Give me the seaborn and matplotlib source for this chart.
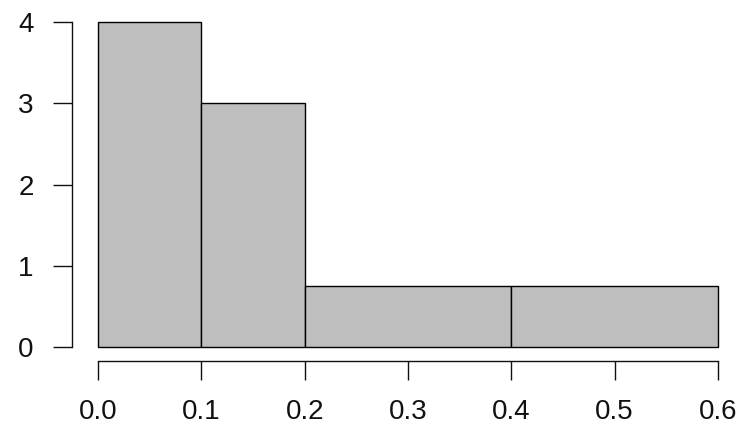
import matplotlib
matplotlib.use("Agg")
import matplotlib.pyplot as plt
import seaborn as sns

# ---- datos ----
bin_edges = [0.0, 0.1, 0.2, 0.4, 0.6]
bin_heights = [4, 3, 0.75, 0.75]
x_ticks = [0.0, 0.1, 0.2, 0.3, 0.4, 0.5, 0.6]
x_labels = ["0.0", "0.1", "0.2", "0.3", "0.4", "0.5", "0.6"]
y_ticks = [0, 1, 2, 3, 4]

mids = [(a + b) / 2 for a, b in zip(bin_edges[:-1], bin_edges[1:])]

sns.set_style("white")
plt.rcParams["font.family"] = ["Liberation Sans", "DejaVu Sans"]

fig = plt.figure(figsize=(7.41, 4.34), dpi=100)
ax = fig.add_axes([72 / 741, 73 / 434, 669 / 741, 351 / 434])

sns.histplot(x=mids, weights=bin_heights, bins=bin_edges, stat="count",
             color="#BEBEBE", edgecolor="black", linewidth=1.0, alpha=1,
             ax=ax)

ax.set_xlim(-0.0252, 0.6223)
ax.set_ylim(-0.172, 4.148)
ax.set_xticks(x_ticks)
ax.set_xticklabels(x_labels)
ax.set_yticks(y_ticks)
ax.set_xlabel("")
ax.set_ylabel("")

# ejes al estilo R (separados)
for s in ["top", "right"]:
    ax.spines[s].set_visible(False)
ax.spines["left"].set_bounds(0, 4)
ax.spines["bottom"].set_bounds(0, 0.6)
for s in ["left", "bottom"]:
    ax.spines[s].set_color("#111111")
    ax.spines[s].set_linewidth(1.0)

ax.tick_params(axis="both", direction="out", length=13.5, width=1.0,
               color="#111111", labelsize=20, labelcolor="#111111")
ax.tick_params(axis="x", pad=14)
ax.tick_params(axis="y", pad=14)
ax.tick_params(left=True, bottom=True)

fig.savefig("out.png", dpi=100)
